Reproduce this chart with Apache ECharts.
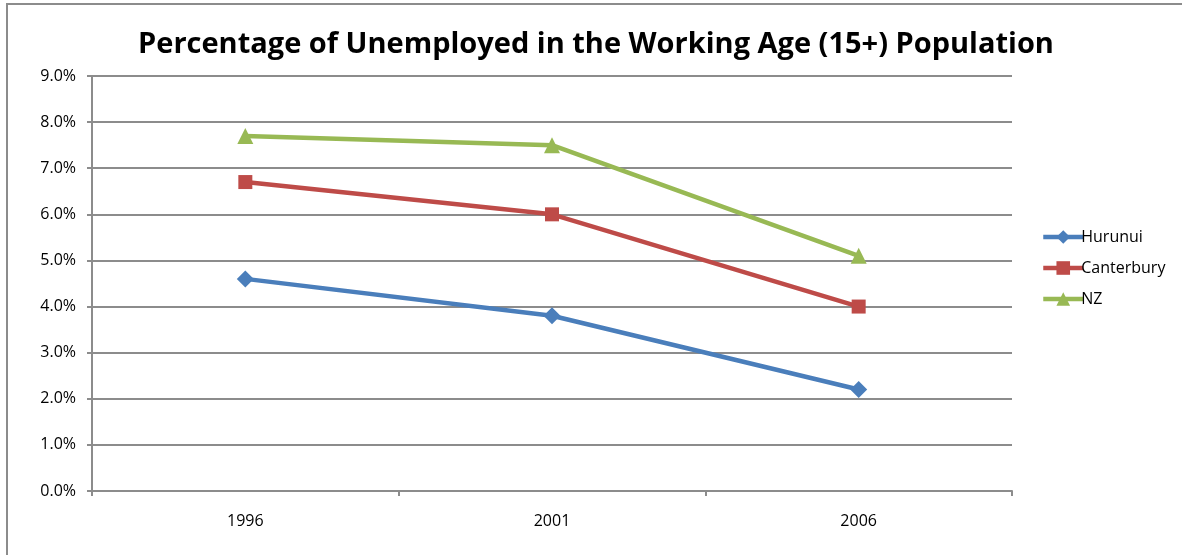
<!DOCTYPE html>
<html><head><meta charset="utf-8">
<script src="https://cdn.jsdelivr.net/npm/echarts@6/dist/echarts.min.js"></script>
<style>
html,body{margin:0;padding:0;background:#fff;overflow:hidden;}
#frame{position:absolute;left:6px;top:3px;width:1200px;height:600px;border-left:2px solid #8c8c8c;border-top:2px solid #8c8c8c;}
#c{position:absolute;left:0;top:0;width:1182px;height:555px;}
</style></head>
<body>
<div id="frame"></div>
<div id="c"></div>
<script>
const titleText = 'Percentage of Unemployed in the Working Age (15+) Population';
const categories = ['1996', '2001', '2006'];
const hurunui = [4.6, 3.8, 2.2];
const canterbury = [6.7, 6.0, 4.0];
const nz = [7.7, 7.5, 5.1];
const seriesNames = ['Hurunui', 'Canterbury', 'NZ'];
const colors = ['#4a7ebb', '#be4b48', '#98b954'];

const font = '"Open Sans", "Liberation Sans", sans-serif';
const chart = echarts.init(document.getElementById('c'), null, {renderer: 'canvas'});
const gridColor = '#8c8c8c';
function mk(name, data, symbol, size, color) {
  return {
    name, type: 'line', data, symbol, symbolSize: size,
    lineStyle: {width: 4.5, color}, itemStyle: {color},
    emphasis: {disabled: true}, animation: false
  };
}
chart.setOption({
  animation: false,
  title: {
    text: titleText, left: 591, top: 25, textAlign: 'center',
    textStyle: {fontFamily: font, fontWeight: 'bold', fontSize: 29, color: '#000'}
  },
  legend: {
    orient: 'vertical', left: 1036, top: 224, itemGap: 15,
    itemWidth: 40, itemHeight: 17,
    lineStyle: {width: 4.5},
    textStyle: {fontFamily: font, fontSize: 16, color: '#000', padding: [0,0,0,-7]},
    data: seriesNames
  },
  grid: {left: 92, right: 170, top: 76, bottom: 64, containLabel: false},
  xAxis: {
    type: 'category', data: categories, boundaryGap: true,
    axisLine: {lineStyle: {color: gridColor, width: 2}},
    axisTick: {show: true, length: 5, lineStyle: {color: gridColor, width: 2}},
    axisLabel: {fontFamily: font, fontSize: 16, color: '#000', margin: 22},
    splitLine: {show: false}
  },
  yAxis: {
    type: 'value', min: 0, max: 9, interval: 1,
    axisLine: {show: true, lineStyle: {color: gridColor, width: 2}},
    axisTick: {show: true, length: 5, lineStyle: {color: gridColor, width: 2}},
    axisLabel: {fontFamily: font, fontSize: 16, color: '#000', margin: 16,
      formatter: v => v.toFixed(1) + '%'},
    splitLine: {show: true, lineStyle: {color: gridColor, width: 2}}
  },
  series: [
    mk(seriesNames[0], hurunui, 'diamond', 17, colors[0]),
    mk(seriesNames[1], canterbury, 'rect', 14, colors[1]),
    mk(seriesNames[2], nz, 'triangle', 16, colors[2])
  ]
});
</script>
</body></html>
